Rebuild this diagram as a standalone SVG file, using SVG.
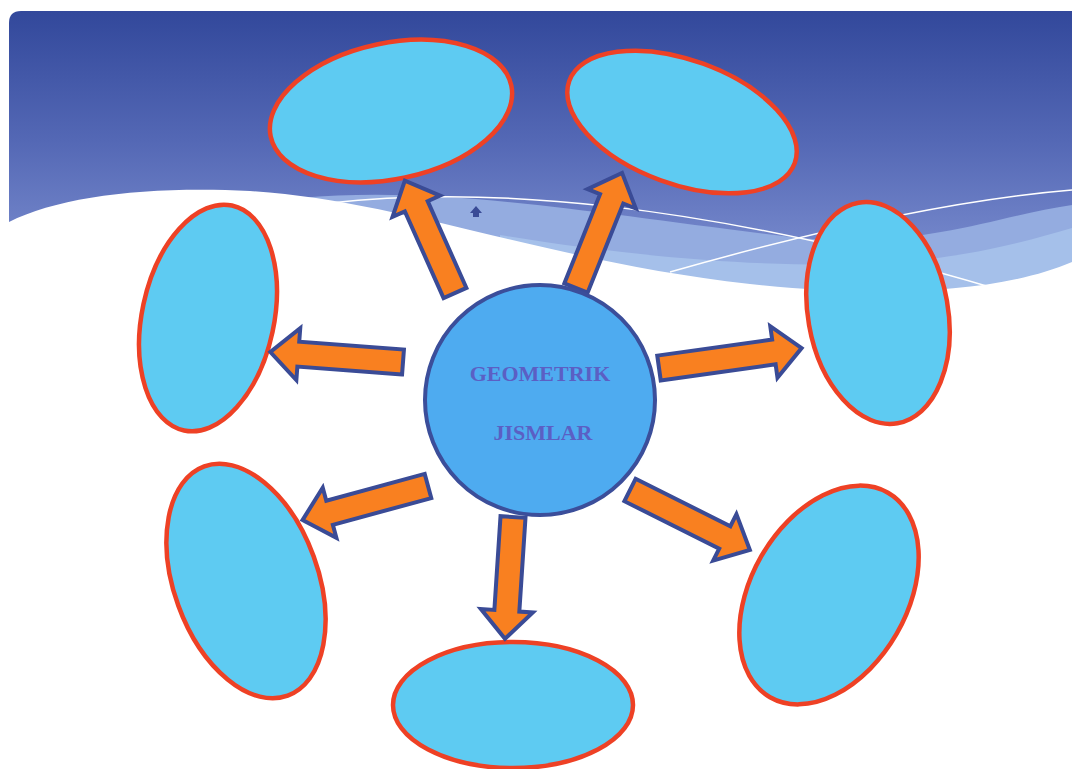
<svg xmlns="http://www.w3.org/2000/svg" width="1072" height="769" viewBox="0 0 1072 769">
<defs>
<linearGradient id="sky" x1="0" y1="11" x2="0" y2="300" gradientUnits="userSpaceOnUse">
<stop offset="0" stop-color="#32489b"/>
<stop offset="0.45" stop-color="#5468b5"/>
<stop offset="1" stop-color="#8597d6"/>
</linearGradient>
<style>
.blob{fill:#5ecbf2;stroke:#ee4125;stroke-width:4.5}
.arr{fill:#f98020;stroke:#3a4b96;stroke-width:4;stroke-linejoin:miter}
.wl{fill:none;stroke:#ffffff;stroke-width:1.5}
.lbl{font-family:"Liberation Serif",serif;font-weight:bold;font-size:22px;fill:#5b5fc4;text-anchor:middle}
</style>
</defs>
<rect width="1072" height="769" fill="#ffffff"/>
<g id="background">
<path d="M9,23 Q9,11 21,11 L1072,11 L1072,300 L9,300 Z" fill="url(#sky)"/>
<path d="M300,198 C450,185 600,215 800,238 C920,250 1000,215 1072,205 L1072,300 L300,300 Z" fill="#94ace0"/>
<path d="M500,235 C650,260 800,270 900,262 C980,255 1030,240 1072,228 L1072,300 L500,300 Z" fill="#a5c0ea"/>
<path d="M9,222 C60,196 150,186 250,191 C400,200 550,262 750,284 C880,298 1000,293 1072,262 L1072,769 L0,769 L0,222 Z" fill="#ffffff"/>
<path class="wl" d="M330,203 C480,186 700,200 1000,290"/>
<path class="wl" d="M670,272 C800,235 950,200 1072,190"/>
<path d="M476,206 L482,213 L479,213 L479,217 L473,217 L473,213 L470,213 Z" fill="#3a4b96"/>
</g>
<g id="ellipse-top-left"><ellipse class="blob" cx="391" cy="111" rx="123" ry="68" transform="rotate(-12 391 111)"/></g>
<g id="ellipse-top-right"><ellipse class="blob" cx="682" cy="122" rx="120" ry="62" transform="rotate(20 682 122)"/></g>
<g id="ellipse-right"><ellipse class="blob" cx="878" cy="313" rx="70" ry="112" transform="rotate(-10 878 313)"/></g>
<g id="ellipse-left"><ellipse class="blob" cx="208" cy="318" rx="66" ry="115" transform="rotate(12 208 318)"/></g>
<g id="ellipse-bottom-left"><ellipse class="blob" cx="246" cy="581" rx="72" ry="122" transform="rotate(-20 246 581)"/></g>
<g id="ellipse-bottom"><ellipse class="blob" cx="513" cy="705" rx="120" ry="63"/></g>
<g id="ellipse-bottom-right"><ellipse class="blob" cx="829" cy="595" rx="78" ry="118" transform="rotate(30 829 595)"/></g>
<g id="connectors">
<polygon class="arr" points="0,-12.5 95,-12.5 95,-26 123,0 95,26 95,12.5 0,12.5" transform="translate(455,293) rotate(-114.06)"/>
<polygon class="arr" points="0,-12.5 96,-12.5 96,-26 124,0 96,26 96,12.5 0,12.5" transform="translate(576,288) rotate(-68.2)"/>
<polygon class="arr" points="0,-12.5 116,-12.5 116,-26 144,0 116,26 116,12.5 0,12.5" transform="translate(659,368) rotate(-7.96)"/>
<polygon class="arr" points="0,-12.5 105,-12.5 105,-26 133,0 105,26 105,12.5 0,12.5" transform="translate(403,362) rotate(-175.7)"/>
<polygon class="arr" points="0,-12.5 102,-12.5 102,-26 130,0 102,26 102,12.5 0,12.5" transform="translate(428,486) rotate(164.8)"/>
<polygon class="arr" points="0,-12.5 94,-12.5 94,-26 122,0 94,26 94,12.5 0,12.5" transform="translate(513,517) rotate(93.75)"/>
<polygon class="arr" points="0,-12.5 106,-12.5 106,-26 134,0 106,26 106,12.5 0,12.5" transform="translate(630,490) rotate(26.57)"/>
</g>
<g id="center">
<circle cx="540" cy="400" r="115" fill="#4eabf0" stroke="#3b4e9a" stroke-width="4"/>
<text class="lbl" x="540" y="381">GEOMETRIK</text>
<text class="lbl" x="543" y="440">JISMLAR</text>
</g>
</svg>
